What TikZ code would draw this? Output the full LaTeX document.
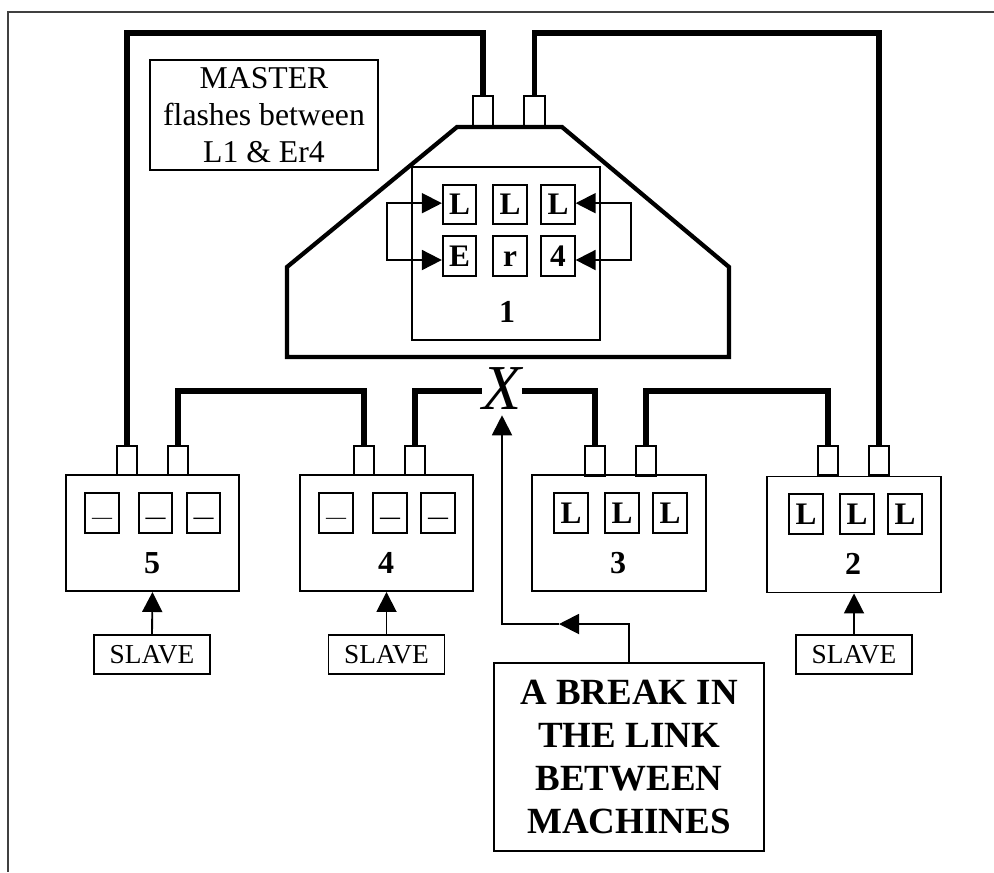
\documentclass[tikz,border=0pt]{standalone}
\usepackage{fontspec}
\setmainfont{Liberation Serif}
\usetikzlibrary{arrows.meta}
\tikzset{
  boxed/.style={draw, line width=1.45pt, inner sep=0pt},
  machine/.style={boxed, minimum width=130pt, minimum height=87pt},
  cell/.style={boxed, minimum width=25pt, minimum height=29.5pt, text height=15pt, text depth=0pt, font=\fontsize{23.5}{26}\selectfont\bfseries},
  blank/.style={cell, text height=16pt, font=\fontsize{15}{18}\selectfont},
  heavy/.style={blank, font=\fontsize{15}{18}\selectfont\bfseries},
  port/.style={boxed, line width=1.5pt, minimum width=15.5pt, minimum height=22pt},
  slave/.style={boxed, minimum width=87pt, minimum height=29pt, font=\fontsize{20.5}{24}\selectfont},
  num/.style={inner sep=0pt, font=\fontsize{24}{26}\selectfont\bfseries},
  link/.style={line width=3.8pt, line join=miter},
  flow/.style={-{Triangle[length=15pt,width=15pt]}, line width=1.4pt},
  loopflow/.style={{Triangle[length=15pt,width=15pt]}-{Triangle[length=15pt,width=15pt]}, line width=1.4pt}
}
\begin{document}
\begin{tikzpicture}[x=0.75pt,y=-0.75pt]
  \useasboundingbox (0,0) rectangle (994,872);
  \draw[line width=1.1pt, black!75] (994,12) -- (8,12) -- (8,872);

  \draw[line width=3.2pt, line join=miter] (457,127) -- (562,127) -- (729,267) -- (729,357) -- (287,357) -- (287,267) -- cycle;

  \node[boxed, minimum width=141pt, minimum height=130pt] (m1) at (506,253.5) {};
  \node[cell] (c11) at (459.5,204.5) {L};
  \node[cell] (c12) at (510,204.5) {L};
  \node[cell] (c13) at (558,204.5) {L};
  \node[cell] (c21) at (459.5,256) {E};
  \node[cell] (c22) at (510,256) {r};
  \node[cell] (c23) at (558,256) {4};
  \node[num] (n1) at (507,312) {1};
  \node[port, minimum height=23pt] (p1a) at (483,111.5) {};
  \node[port, minimum height=23pt] (p1b) at (534.5,111.5) {};

  \node[boxed, align=center, minimum width=171pt, minimum height=82.5pt, font=\fontsize{23.8}{27.6}\selectfont] (master) at (264,115) {MASTER\\flashes between\\L1 \& Er4};

  \node[machine] (m5) at (152.5,533) {};
  \node[blank] (a1) at (102,513) {---};
  \node[heavy] (a2) at (155.5,513) {---};
  \node[heavy] (a3) at (203.5,513) {---};
  \node[num] (n5) at (152,563) {5};
  \node[port] (p5a) at (127,460.5) {};
  \node[port] (p5b) at (178,460.5) {};
  \node[slave] (s5) at (152,654.5) {SLAVE};

  \node[machine] (m4) at (386.5,533) {};
  \node[blank] (b1) at (336,513) {---};
  \node[heavy] (b2) at (390,513) {---};
  \node[heavy] (b3) at (438,513) {---};
  \node[num] (n4) at (386,563) {4};
  \node[port] (p4a) at (364,460.5) {};
  \node[port] (p4b) at (415,460.5) {};
  \node[slave] (s4) at (386.5,654.5) {SLAVE};

  \node[machine] (m3) at (619,533) {};
  \node[cell] (d1) at (571,513) {L};
  \node[cell] (d2) at (622,513) {L};
  \node[cell] (d3) at (670,513) {L};
  \node[num] (n3) at (618,563) {3};
  \node[port] (p3a) at (595,461) {};
  \node[port] (p3b) at (646,461) {};

  \node[machine] (m2) at (854,534.5) {};
  \node[cell] (e1) at (806,514) {L};
  \node[cell] (e2) at (857,514) {L};
  \node[cell] (e3) at (905,514) {L};
  \node[num] (n2) at (853,564) {2};
  \node[port] (p2a) at (828,460.5) {};
  \node[port] (p2b) at (879,460.5) {};
  \node[slave] (s2) at (854,654.5) {SLAVE};

  \node[inner sep=0pt, minimum height=36pt, text height=31pt, text depth=3pt, font=\fontsize{48}{50}\selectfont\itshape] (brk) at (502,391) {X};
  \node[boxed, align=center, minimum width=202.5pt, minimum height=141pt, font=\fontsize{27.7}{32.3}\selectfont\bfseries] (note) at (629,757) {A BREAK IN\\THE LINK\\BETWEEN\\MACHINES};

  \coordinate (railtop) at (0,33);
  \coordinate (railmid) at (0,391);
  \coordinate (loopL) at (387,230);
  \coordinate (loopR) at (631,230);
  \coordinate (turn) at (559,624);

  \draw[link] (p1a.north) -- (p1a.north |- railtop) -- (p5a.north |- railtop) -- (p5a.north);
  \draw[link] (p1b.north) -- (p1b.north |- railtop) -- (p2b.north |- railtop) -- (p2b.north);
  \draw[link] (p5b.north) -- (p5b.north |- railmid) -- (p4a.north |- railmid) -- (p4a.north);
  \draw[link] (p3b.north) -- (p3b.north |- railmid) -- (p2a.north |- railmid) -- (p2a.north);
  \draw[link] (p4b.north) |- (brk.west);
  \draw[link] (brk.east) -| (p3a.north);

  \draw[loopflow] ([yshift=1pt]c11.west) -| (loopL) |- ([yshift=-3pt]c21.west);
  \draw[loopflow] ([yshift=1pt]c13.east) -| (loopR) |- ([yshift=-3pt]c23.east);

  \draw[flow] (s5.north) -- (m5.south);
  \draw[flow] (s4.north) -- (m4.south);
  \draw[flow] (s2.north) -- (m2.south);

  \draw[flow] (note.north) |- (turn);
  \draw[flow] (turn) -| (brk.south);
\end{tikzpicture}
\end{document}
